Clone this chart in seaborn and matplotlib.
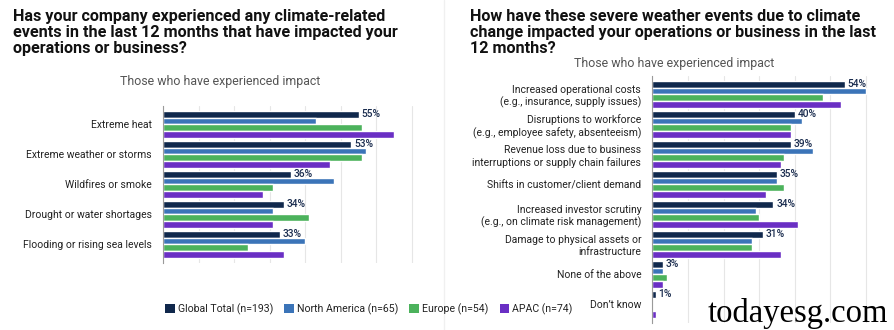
import matplotlib
matplotlib.use("Agg")
import matplotlib.pyplot as plt
import seaborn as sns
import pandas as pd
from matplotlib.patches import Patch

# ---------------- data ----------------
series = ["Global Total (n=193)", "North America (n=65)", "Europe (n=54)", "APAC (n=74)"]
colors = ["#10284c", "#3b74b8", "#4cb25c", "#6a2fc4"]

left_cats = ["Extreme heat", "Extreme weather or storms", "Wildfires or smoke",
             "Drought or water shortages", "Flooding or rising sea levels"]
left_global = [55, 53, 36, 34, 33]
left_na = [43, 57, 48, 31, 40]
left_eu = [56, 56, 31, 41, 24]
left_apac = [65, 47, 28, 31, 34]

right_cats = ["Increased operational costs\n(e.g., insurance, supply issues)",
              "Disruptions to workforce\n(e.g., employee safety, absenteeism)",
              "Revenue loss due to business\ninterruptions or supply chain failures",
              "Shifts in customer/client demand",
              "Increased investor scrutiny\n(e.g., on climate risk management)",
              "Damage to physical assets or\ninfrastructure",
              "None of the above",
              "Don\u2019t know"]
right_global = [54, 40, 39, 35, 34, 31, 3, 1]
right_na = [60, 42, 45, 35, 29, 28, 3, 0]
right_eu = [48, 39, 37, 37, 30, 28, 4, 0]
right_apac = [53, 39, 36, 32, 41, 36, 3, 1]

left_title = ("Has your company experienced any climate-related\n"
              "events in the last 12 months that have impacted your\n"
              "operations or business?")
right_title = ("How have these severe weather events due to climate\n"
               "change impacted your operations or business in the last\n"
               "12 months?")
subtitle = "Those who have experienced impact"


def long_df(cats, vals):
    rows = []
    for s, v in zip(series, vals):
        for c, x in zip(cats, v):
            rows.append({"cat": c, "series": s, "value": x})
    return pd.DataFrame(rows)


sns.set_theme(style="white")
plt.rcParams["font.family"] = ["Roboto", "DejaVu Sans"]

W, H = 894, 330
fig = plt.figure(figsize=(W / 100, H / 100), dpi=100)
fig.patch.set_facecolor("white")

TXT = "#222222"
NAVY = "#1b2d4f"


def draw(ax, cats, vals, xmax, ticks):
    df = long_df(cats, vals)
    sns.barplot(data=df, y="cat", x="value", hue="series", orient="h",
                palette=colors, width=0.9, gap=0, ax=ax, legend=False,
                saturation=1, order=cats, hue_order=series, errorbar=None)
    ax.set_xlim(0, xmax)
    ax.set_ylim(len(cats) - 1 + 0.62, -0.62)
    ax.set_xticks(ticks)
    ax.set_xticklabels([])
    ax.xaxis.grid(True, color="#e6e6e6", linewidth=0.8)
    ax.set_axisbelow(True)
    for sp in ["top", "right", "bottom"]:
        ax.spines[sp].set_visible(False)
    ax.spines["left"].set_color("#9a9a9a")
    ax.spines["left"].set_linewidth(0.8)
    ax.set_xlabel("")
    ax.set_ylabel("")
    ax.tick_params(axis="y", length=0, pad=8, labelsize=7.5, labelcolor=TXT)
    ax.tick_params(axis="x", length=0)
    ax.bar_label(ax.containers[0], fmt="%d%%", padding=2, fontsize=7.4,
                 color=NAVY, fontweight="medium")


# left chart
axL = fig.add_axes([163 / W, 1 - 263 / H, 256 / W, 157.2 / H])
draw(axL, left_cats, [left_global, left_na, left_eu, left_apac], 72, range(0, 71, 10))

# right chart
axR = fig.add_axes([652.3 / W, 1 - 323 / H, 228 / W, 247.2 / H])
draw(axR, right_cats, [right_global, right_na, right_eu, right_apac], 64, range(0, 61, 10))

# titles
fig.text(13 / W, 1 - 9 / H, left_title, ha="left", va="top", fontsize=11.6,
         fontweight="bold", color="#111111", linespacing=1.1)
fig.text(470 / W, 1 - 9 / H, right_title, ha="left", va="top", fontsize=11.6,
         fontweight="bold", color="#111111", linespacing=1.1)
fig.text(220 / W, 1 - 81 / H, subtitle, ha="center", va="center", fontsize=8.9,
         color="#555555")
fig.text(674 / W, 1 - 63 / H, subtitle, ha="center", va="center", fontsize=8.9,
         color="#555555")

# panel divider
fig.add_artist(plt.Line2D([444 / W, 444 / W], [0, 1], color="#f0f0f0", linewidth=1))

# legend
handles = [Patch(facecolor=c, edgecolor="none") for c in colors]
fig.legend(handles, series, loc="center left", bbox_to_anchor=(161 / W, 1 - 309 / H),
           ncol=4, frameon=False, fontsize=7.6, handlelength=0.9, handleheight=0.9,
           handletextpad=0.3, columnspacing=1.05, labelcolor=TXT, borderaxespad=0)

# watermark
fig.text(888 / W, 1 - 322 / H, "todayesg.com", ha="right", va="baseline",
         fontsize=23.5, family=["Liberation Serif", "DejaVu Serif"], color="black")

fig.savefig("out.png", dpi=100, facecolor="white")
